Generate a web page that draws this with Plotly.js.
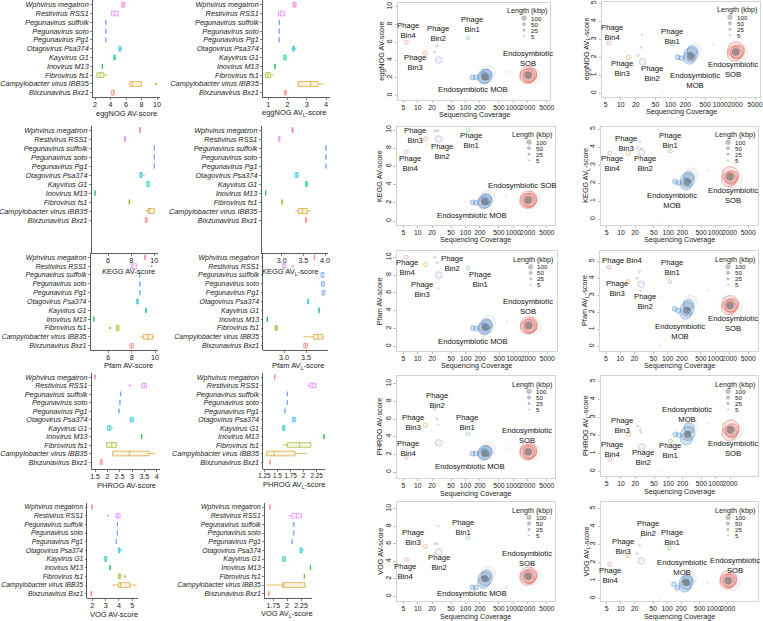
<!DOCTYPE html>
<html><head><meta charset="utf-8">
<script src="https://cdn.plot.ly/plotly-3.0.1.min.js"></script>
<style>html,body{margin:0;padding:0;background:#fff}#chart{width:763px;height:621px}</style>
</head><body><div id="chart"></div>
<script>
// ================= DATA =================
const categories = ['Wphvirus megatron','Restivirus RSS1','Pegunavirus suffolk','Pegunavirus soto','Pegunavirus Pg1','Otagovirus Psa374','Kayvirus G1','Inovirus M13','Fibrovirus fs1','Campylobacter virus IBB35','Bixzunavirus Bxz1'];
const categoryGenus = ['Wphvirus','Restivirus','Pegunavirus','Pegunavirus','Pegunavirus','Otagovirus','Kayvirus','Inovirus','Fibrovirus','Campylobacter virus','Bixzunavirus'];

// box statistics (order = categories)
const eggnogAV_lo  = [5.40,4.05,3.40,3.40,3.40,5.00,4.35,2.95,2.20,6.30,4.05];
const eggnogAV_q1  = [5.45,4.10,3.40,3.40,3.40,5.10,4.40,2.95,2.25,6.50,4.10];
const eggnogAV_med = [5.65,4.50,3.40,3.40,3.40,5.25,4.55,2.95,2.65,6.80,4.35];
const eggnogAV_q3  = [5.85,5.00,3.40,3.40,3.40,5.35,4.65,2.95,3.15,8.00,4.50];
const eggnogAV_hi  = [5.90,5.05,3.40,3.40,3.40,5.50,4.70,2.95,3.60,8.00,4.55];
const eggnogAV_outCat = ['Campylobacter virus IBB35'];
const eggnogAV_outVal = [9.9];

const eggnogAVL_lo  = [2.26,1.50,1.57,1.57,1.57,2.20,1.78,1.35,0.83,2.50,1.83];
const eggnogAVL_q1  = [2.28,1.53,1.57,1.57,1.57,2.26,1.80,1.35,0.85,2.55,1.84];
const eggnogAVL_med = [2.36,1.65,1.57,1.57,1.57,2.30,1.87,1.35,0.97,3.20,1.88];
const eggnogAVL_q3  = [2.44,1.85,1.57,1.57,1.57,2.37,1.93,1.35,1.12,3.59,1.94];
const eggnogAVL_hi  = [2.47,1.87,1.57,1.57,1.57,2.44,1.95,1.35,1.30,3.89,1.95];
const eggnogAVL_outCat = [];
const eggnogAVL_outVal = [];

const keggAV_lo  = [8.72,7.40,10.0,10.0,10.0,8.75,9.33,4.88,7.84,9.20,9.20];
const keggAV_q1  = [8.72,7.42,10.0,10.0,10.0,8.75,9.35,4.88,7.84,9.45,9.22];
const keggAV_med = [8.76,7.47,10.0,10.0,10.0,8.85,9.45,4.88,7.84,9.60,9.30];
const keggAV_q3  = [8.80,7.52,10.0,10.0,10.0,8.95,9.60,4.88,7.84,10.0,9.38];
const keggAV_hi  = [8.80,7.52,10.0,10.0,10.0,9.20,9.62,4.88,7.84,10.05,9.40];
const keggAV_outCat = [];
const keggAV_outVal = [];

const keggAVL_lo  = [3.23,2.92,4.02,4.02,4.02,3.31,3.54,2.63,3.01,3.31,3.55];
const keggAVL_q1  = [3.24,2.93,4.02,4.02,4.02,3.31,3.55,2.63,3.01,3.38,3.55];
const keggAVL_med = [3.25,2.94,4.02,4.02,4.02,3.34,3.57,2.63,3.01,3.48,3.56];
const keggAVL_q3  = [3.26,2.96,4.02,4.02,4.02,3.38,3.60,2.63,3.01,3.59,3.58];
const keggAVL_hi  = [3.27,2.96,4.02,4.02,4.02,3.40,3.60,2.63,3.01,3.67,3.58];
const keggAVL_outCat = [];
const keggAVL_outVal = [];

const pfamAV_lo  = [9.12,7.95,8.70,8.70,8.70,8.40,9.20,4.77,6.66,8.70,7.80];
const pfamAV_q1  = [9.13,7.95,8.70,8.70,8.70,8.43,9.21,4.77,6.66,9.00,7.86];
const pfamAV_med = [9.15,8.10,8.70,8.70,8.70,8.50,9.23,4.77,6.80,9.40,8.00];
const pfamAV_q3  = [9.17,8.43,8.70,8.70,8.70,8.57,9.25,4.77,6.92,9.80,8.14];
const pfamAV_hi  = [9.18,8.43,8.70,8.70,8.70,8.60,9.26,4.77,6.92,10.0,8.20];
const pfamAV_outCat = ['Restivirus RSS1','Fibrovirus fs1'];
const pfamAV_outVal = [9.7,6.15];

const pfamAVL_lo  = [3.69,2.97,3.84,3.85,3.86,3.54,3.79,2.62,2.75,3.44,3.44];
const pfamAVL_q1  = [3.69,2.97,3.84,3.85,3.86,3.54,3.79,2.62,2.80,3.67,3.45];
const pfamAVL_med = [3.69,3.00,3.87,3.88,3.90,3.55,3.80,2.62,2.82,3.77,3.49];
const pfamAVL_q3  = [3.70,3.04,3.91,3.92,3.93,3.56,3.81,2.62,2.85,3.88,3.53];
const pfamAVL_hi  = [3.70,3.04,3.91,3.92,3.93,3.57,3.81,2.62,2.85,3.90,3.54];
const pfamAVL_outCat = ['Restivirus RSS1'];
const pfamAVL_outVal = [3.2];

const phrogAV_lo  = [1.50,3.39,2.54,2.51,2.47,2.92,2.01,3.39,1.97,2.20,1.70];
const phrogAV_q1  = [1.50,3.39,2.54,2.51,2.47,2.93,2.01,3.39,1.97,2.22,1.71];
const phrogAV_med = [1.50,3.50,2.54,2.51,2.47,2.97,2.08,3.39,2.18,2.89,1.75];
const phrogAV_q3  = [1.50,3.59,2.54,2.51,2.47,3.05,2.15,3.39,2.38,3.69,1.80];
const phrogAV_hi  = [1.50,3.59,2.54,2.51,2.47,3.10,2.24,3.39,2.38,3.93,1.81];
const phrogAV_outCat = ['Restivirus RSS1'];
const phrogAV_outVal = [2.92];

const phrogAVL_lo  = [1.45,2.06,1.69,1.69,1.645,1.79,1.60,2.39,1.61,1.28,1.36];
const phrogAVL_q1  = [1.45,2.12,1.69,1.69,1.645,1.79,1.60,2.39,1.69,1.295,1.36];
const phrogAVL_med = [1.45,2.18,1.69,1.69,1.645,1.815,1.62,2.39,1.92,1.435,1.36];
const phrogAVL_q3  = [1.45,2.24,1.69,1.69,1.645,1.84,1.645,2.39,2.14,1.836,1.36];
const phrogAVL_hi  = [1.45,2.24,1.69,1.69,1.645,1.84,1.645,2.39,2.14,2.07,1.36];
const phrogAVL_outCat = [];
const phrogAVL_outVal = [];

const vogAV_lo  = [1.98,3.78,3.88,3.88,3.80,3.95,2.90,3.33,3.95,3.45,1.90];
const vogAV_q1  = [1.98,3.78,3.88,3.88,3.80,3.95,2.90,3.33,3.95,3.95,1.90];
const vogAV_med = [1.98,3.90,3.88,3.88,3.80,4.02,3.00,3.33,4.02,4.13,1.93];
const vogAV_q3  = [1.98,4.08,3.88,3.88,3.80,4.08,3.08,3.33,4.13,4.83,1.95];
const vogAV_hi  = [1.98,4.08,3.88,3.88,3.80,4.25,3.08,3.33,4.13,5.33,1.95];
const vogAV_outCat = ['Restivirus RSS1','Fibrovirus fs1'];
const vogAV_outVal = [3.2,4.45];

const vogAVL_lo  = [1.69,2.02,2.12,2.12,2.09,2.23,1.92,2.42,2.31,1.63,1.67];
const vogAVL_q1  = [1.69,2.08,2.12,2.12,2.09,2.23,1.92,2.42,2.31,1.92,1.67];
const vogAVL_med = [1.69,2.17,2.12,2.12,2.09,2.25,1.94,2.42,2.31,1.93,1.67];
const vogAVL_q3  = [1.69,2.26,2.12,2.12,2.09,2.27,1.97,2.42,2.31,2.32,1.67];
const vogAVL_hi  = [1.69,2.26,2.12,2.12,2.09,2.30,1.97,2.42,2.31,2.32,1.67];
const vogAVL_outCat = [];
const vogAVL_outVal = [];

// scatter: contigs / bins
const pointGroup = ['Bin4','Bin3','Bin2','Bin2','Bin2','Bin2','Bin1','MOB','MOB','MOB','MOB','MOB','none','center','SOB','SOB','SOB','none','center','none','none','none'];
const coverage   = [5.8,14.5,22.5,25.5,27.5,27,112,140,165,240,258,275,300,255,1950,2080,2200,2450,2050,720,1500,70];
const lengthKbp  = [70,90,20,15,200,8,70,110,110,650,900,500,900,200,1000,1250,850,1300,220,15,25,5];

const eggnogAV_y  = [6.0,4.8,4.9,5.6,4.0,8.0,6.5,2.05,2.05,2.0,2.2,2.4,2.6,2.1,2.2,2.4,2.3,2.3,2.3,2.7,2.6,0.1];
const eggnogAVL_y = [2.8,2.0,2.1,2.55,1.76,3.25,2.74,2.0,1.95,1.95,2.15,2.35,2.4,2.05,2.2,2.4,2.3,2.2,2.3,2.7,2.65,0.05];
const keggAV_y    = [7.6,9.0,9.9,9.9,9.0,9.95,10.0,2.05,2.0,2.0,2.2,2.4,2.6,2.1,2.2,2.4,2.3,2.3,2.3,2.7,2.6,0.1];
const keggAVL_y   = [3.65,3.65,3.96,4.3,3.7,3.9,3.78,2.07,2.0,1.95,2.15,2.35,2.45,2.05,2.2,2.45,2.3,2.2,2.35,2.7,2.7,0.05];
const pfamAV_y    = [10.0,9.2,10.0,9.4,8.0,6.5,8.8,2.06,2.0,1.95,2.2,2.5,2.7,2.1,2.2,2.4,2.3,2.3,2.35,2.8,2.7,0.1];
const pfamAVL_y   = [4.65,3.8,4.0,4.4,3.65,3.25,3.8,2.2,2.1,1.95,2.2,2.45,2.6,2.1,2.3,2.5,2.4,2.3,2.4,3.3,2.85,0.05];
const phrogAV_y   = [1.7,5.28,7.1,6.0,3.3,5.36,4.34,2.08,2.08,2.0,2.2,2.4,2.6,2.1,2.2,2.4,2.3,2.3,2.3,2.7,2.6,0.1];
const phrogAVL_y  = [0.67,2.04,2.5,2.28,1.35,2.15,1.67,2.05,2.0,1.8,2.1,2.4,2.5,2.05,2.1,2.4,2.25,2.2,2.3,2.65,2.6,0.0];
const vogAV_y     = [4.18,5.7,6.0,6.0,5.06,8.0,6.7,1.0,1.0,1.6,2.0,2.4,2.6,2.0,2.1,2.4,2.3,2.3,2.3,1.0,2.5,0.1];
const vogAVL_y    = [1.9,2.4,2.5,2.96,2.1,3.43,2.83,0.8,0.6,0.7,0.9,1.05,1.15,0.9,0.95,1.1,1.0,0.95,1.0,0.87,1.05,0.0];

const sizeLegendVals = [100,50,25,5];
const covTicks = [5,10,20,50,100,200,500,1000,2000,5000];

// ================= STYLE / LAYOUT =================
const W = 763, H = 621;
const FONT = 'Liberation Sans, Arial, sans-serif';
const genusColor = {'Bixzunavirus':'#F8766D','Campylobacter virus':'#D39200','Fibrovirus':'#93AA00','Inovirus':'#00BA38','Kayvirus':'#00C19F','Otagovirus':'#00B9E3','Pegunavirus':'#619CFF','Restivirus':'#DB72FB','Wphvirus':'#FF61C3'};
const groupStyle = {
  Bin4:{c:'#E6788F',f:0.15,l:0.9}, Bin3:{c:'#EE9A3A',f:0.2,l:0.9}, Bin2:{c:'#9C8FC4',f:0.15,l:0.85},
  Bin1:{c:'#6FBF6F',f:0.15,l:0.9}, MOB:{c:'#3A78BE',f:0.30,l:0.8}, SOB:{c:'#E0403A',f:0.18,l:0.8},
  none:{c:'#B8B8B8',f:0.18,l:0.45}, center:{c:'#6E6E6E',f:0.85,l:0.9}
};
const SIZE_K = 0.47; // px diameter per sqrt(kbp)
function rgba(hex,a){const n=parseInt(hex.slice(1),16);return `rgba(${n>>16&255},${n>>8&255},${n&255},${a})`;}
const px2x = p => p / W, px2y = p => 1 - p / H;

const boxPanels = [
 {s:'eggnogAV', title:'eggNOG AV-score', xcal:[2,95,10,157], dom:[93,160,0,97], cat:[4.7,92.7], cf:7.3, xf:7.2, tv:[2,4,6,8,10], tf:'', tpos:[126,113]},
 {s:'eggnogAVL', title:'eggNOG AV<sub>L</sub>-score', xcal:[1,268.3,4,326], dom:[263,330,0,97], cat:[4.7,92.7], cf:7.3, xf:7.2, tv:[1,2,3,4], tf:'', tpos:[294,112.5]},
 {s:'keggAV', title:'KEGG AV-score', xcal:[6,108,10,154.3], dom:[91.7,158,125.5,253], cat:[130,220], cf:7.3, xf:7.2, tv:[6,8,10], tf:'', tpos:[128,271.7]},
 {s:'keggAVL', title:'KEGG AV<sub>L</sub>-score', xcal:[3,281.7,4,325], dom:[261.7,328,125.5,253], cat:[130,220], cf:7.3, xf:7.2, tv:[3,3.5,4], tf:'.1f', tpos:[290,271.7]},
 {s:'pfamAV', title:'Pfam AV-score', xcal:[6,108.3,10,155], dom:[90.7,158,253,350], cat:[257.3,345.7], cf:7.0, xf:7.2, tv:[6,8,10], tf:'', tpos:[128,365.8]},
 {s:'pfamAVL', title:'Pfam AV<sub>L</sub>-score', xcal:[3,284,3.5,306], dom:[263.3,328,253,350], cat:[257.3,345.7], cf:7.0, xf:7.2, tv:[3,3.5], tf:'.1f', tpos:[298,365.8]},
 {s:'phrogAV', title:'PHROG AV-score', xcal:[1.5,95,4,156.7], dom:[91.7,160,372.7,469], cat:[377,462], cf:7.2, xf:7.0, tv:[1.5,2,2.5,3,3.5,4], tf:'', tpos:[126,485.3]},
 {s:'phrogAVL', title:'PHROG AV<sub>L</sub>-score', xcal:[1.25,264.3,2.25,316.7], dom:[263.3,325,372.7,469], cat:[377,462], cf:7.2, xf:6.3, tv:[1.25,1.5,1.75,2,2.25], tf:'', tpos:[294,485.3]},
 {s:'vogAV', title:'VOG AV-score', xcal:[2,92.3,5,132.3], dom:[87.3,138.3,502.7,598], cat:[507,593.7], cf:6.75, xf:7.2, tv:[2,3,4,5], tf:'', tpos:[114,614.3]},
 {s:'vogAVL', title:'VOG AV<sub>L</sub>-score', xcal:[1.75,273.3,2.25,301], dom:[265,312,502.7,598], cat:[507,593.7], cf:6.9, xf:7.0, tv:[1.75,2,2.25], tf:'', tpos:[287,614.3]}
];
const boxData = {
 eggnogAV:[eggnogAV_lo,eggnogAV_q1,eggnogAV_med,eggnogAV_q3,eggnogAV_hi,eggnogAV_outCat,eggnogAV_outVal],
 eggnogAVL:[eggnogAVL_lo,eggnogAVL_q1,eggnogAVL_med,eggnogAVL_q3,eggnogAVL_hi,eggnogAVL_outCat,eggnogAVL_outVal],
 keggAV:[keggAV_lo,keggAV_q1,keggAV_med,keggAV_q3,keggAV_hi,keggAV_outCat,keggAV_outVal],
 keggAVL:[keggAVL_lo,keggAVL_q1,keggAVL_med,keggAVL_q3,keggAVL_hi,keggAVL_outCat,keggAVL_outVal],
 pfamAV:[pfamAV_lo,pfamAV_q1,pfamAV_med,pfamAV_q3,pfamAV_hi,pfamAV_outCat,pfamAV_outVal],
 pfamAVL:[pfamAVL_lo,pfamAVL_q1,pfamAVL_med,pfamAVL_q3,pfamAVL_hi,pfamAVL_outCat,pfamAVL_outVal],
 phrogAV:[phrogAV_lo,phrogAV_q1,phrogAV_med,phrogAV_q3,phrogAV_hi,phrogAV_outCat,phrogAV_outVal],
 phrogAVL:[phrogAVL_lo,phrogAVL_q1,phrogAVL_med,phrogAVL_q3,phrogAVL_hi,phrogAVL_outCat,phrogAVL_outVal],
 vogAV:[vogAV_lo,vogAV_q1,vogAV_med,vogAV_q3,vogAV_hi,vogAV_outCat,vogAV_outVal],
 vogAVL:[vogAVL_lo,vogAVL_q1,vogAVL_med,vogAVL_q3,vogAVL_hi,vogAVL_outCat,vogAVL_outVal]
};

const scatterPanels = [
 {y:eggnogAV_y, title:'eggNOG AV-score', dom:[398,550,2.7,100], xcal:[5,403.3,5000,546.7], ycal:[0,95.7,10,6.7], yt:[0,2,4,6,8,10], noMax:false, col:3,
  labels:[['Phage<br>Bin4',408.3,30.7],['Phage<br>Bin2',438.3,33.3],['Phage<br>Bin1',471.7,25],['Phage<br>Bin3',415,62.3],['Endosymbiotic<br>SOB',528.3,58.3],['Endosymbiotic MOB',473.3,89.3]]},
 {y:eggnogAVL_y, title:'eggNOG AV<sub>L</sub>-score', dom:[602,760,1.7,96.7], xcal:[5,605.7,5000,755], ycal:[0,93.3,5,3.3], yt:[0,1,2,3,4,5], noMax:false, col:4,
  labels:[['Phage<br>Bin4',611.7,32.7],['Phage<br>Bin3',621.7,68.3],['Phage<br>Bin2',651.7,73.3],['Phage<br>Bin1',671.7,36],['Endosymbiotic<br>MOB',695,80.7],['Endosymbiotic<br>SOB',733.3,69]]},
 {y:keggAV_y, title:'KEGG AV-score', dom:[396.7,555,126.7,225], xcal:[5,403.3,5000,546.7], ycal:[0,221,10,130], yt:[0,2,4,6,8,10], noMax:false, col:3,
  labels:[['Phage<br>Bin3',415,135.3],['Phage<br>Bin2',442.3,151.7],['Phage<br>Bin4',410,163.3],['Phage<br>Bin1',470.7,140],['Endosymbiotic SOB',521.7,185],['Endosymbiotic MOB',471.7,215]]},
 {y:keggAVL_y, title:'KEGG AV<sub>L</sub>-score', dom:[601,758,126.7,225], xcal:[5,606.7,5000,748.3], ycal:[0,219,5,129], yt:[0,1,2,3,4,5], noMax:false, col:4,
  labels:[['Phage<br>Bin3',626,143.3],['Phage<br>Bin4',611.7,163.3],['Phage<br>Bin2',645,163.3],['Phage<br>Bin1',670,140],['Endosymbiotic<br>MOB',671.7,200],['Endosymbiotic<br>SOB',732.7,195]]},
 {y:pfamAV_y, title:'Pfam AV-score', dom:[396.7,556.7,251.3,350.7], xcal:[5,403.3,5000,547.3], ycal:[0,346.3,10,257.3], yt:[0,2,4,6,8,10], noMax:false, col:3,
  labels:[['Phage<br>Bin4',406.7,267.3],['Phage<br>Bin2',451.7,263.7],['Phage<br>Bin3',421.7,289.7],['Phage<br>Bin1',480,279.7],['Endosymbiotic<br>SOB',528.3,306.3],['Endosymbiotic MOB',473.3,341.3]]},
 {y:pfamAVL_y, title:'Pfam AV<sub>L</sub>-score', dom:[600,758,251.3,350.7], xcal:[5,606,5000,748.3], ycal:[0,346.3,5,261.3], yt:[0,1,2,3,4,5], noMax:false, col:4,
  labels:[['Phage Bin4',621.7,260.7],['Phage<br>Bin3',616.7,288.7],['Phage<br>Bin2',645,301.3],['Phage<br>Bin1',671.7,268],['Endosymbiotic<br>MOB',680,331.3],['Endosymbiotic<br>SOB',732.7,323]]},
 {y:phrogAV_y, title:'PHROG AV-score', dom:[396.7,555,376,478], xcal:[5,403.3,5000,546.7], ycal:[0,472,10,383.7], yt:[0,2,4,6,8,10], noMax:false, col:3,
  labels:[['Phage<br>Bin2',437.3,400.3],['Phage<br>Bin3',413.3,422.7],['Phage<br>Bin1',466.7,422],['Phage<br>Bin4',408.3,448],['Endosymbiotic<br>SOB',526.7,435.3],['Endosymbiotic MOB',470,466.3]]},
 {y:phrogAVL_y, title:'PHROG AV<sub>L</sub>-score', dom:[601,758,376,476], xcal:[5,606.7,2000,730], ycal:[0,471.3,5,381.3], yt:[0,1,2,3,4,5], noMax:true, col:4,
  labels:[['Phage<br>Bin3',621.7,425.3],['Phage<br>Bin4',611.7,449.3],['Phage<br>Bin2',643.3,458],['Phage<br>Bin1',670,450.3],['Endosymbiotic<br>MOB',686.7,414.7],['Endosymbiotic<br>SOB',733.3,448.7]]},
 {y:vogAV_y, title:'VOG AV-score', dom:[396.7,555,502,601], xcal:[5,403.3,5000,546.7], ycal:[0,596.3,10,508.7], yt:[0,2,4,6,8,10], noMax:false, col:3,
  labels:[['Phage<br>Bin1',463.3,527],['Phage<br>Bin3',413.3,537.7],['Phage<br>Bin2',439.3,562],['Phage<br>Bin4',405,571],['Endosymbiotic<br>SOB',526.7,558.7],['Endosymbiotic MOB',471.7,593.7]]},
 {y:vogAVL_y, title:'VOG AV<sub>L</sub>-score', dom:[601,758,502,601], xcal:[5,606.7,2000,727.7], ycal:[0,598.7,5,508.7], yt:[0,1,2,3,4,5], noMax:true, col:4,
  labels:[['Phage<br>Bin2',648.3,528.7],['Phage<br>Bin1',671.7,537],['Phage<br>Bin3',623.3,546.3],['Phage<br>Bin4',610,575.3],['Endosymbiotic<br>MOB',681.7,567],['Endosymbiotic<br>SOB',735,565.3]]}
];

const traces = [];
const layout = {width:W, height:H, margin:{l:0,r:0,t:0,b:0}, paper_bgcolor:'#ffffff', plot_bgcolor:'rgba(0,0,0,0)',
  showlegend:false, font:{family:FONT, size:7.5, color:'#222'}, annotations:[], shapes:[], hovermode:false};

function axId(p){return p===0?'':String(p+1);}
function ann(text,x,y,opt){layout.annotations.push(Object.assign({text:text, x:px2x(x), y:px2y(y), xref:'paper', yref:'paper', showarrow:false, xanchor:'center', yanchor:'middle', font:{family:FONT,size:7.6,color:'#111'}}, opt||{}));}

// ---- box panels ----
boxPanels.forEach((bp,k)=>{
  const row = Math.floor(k/2), col = k%2;
  const p = row*4 + col, ax = axId(p);
  const [lo,q1,med,q3,hi,outCat,outVal] = boxData[bp.s];
  const [v1,p1,v2,p2] = bp.xcal, ppu = (p2-p1)/(v2-v1);
  const [l,r,t,b] = bp.dom;
  const xr = [v1-(p1-l)/ppu, v1+(r-p1)/ppu];
  const s = (bp.cat[1]-bp.cat[0])/10;
  const yr = [10+(b-bp.cat[1])/s, -(bp.cat[0]-t)/s];
  layout['xaxis'+ax] = {domain:[px2x(l),px2x(r)], range:xr, anchor:'y'+ax, tickmode:'array', tickvals:bp.tv, tickformat:bp.tf, showline:true, linecolor:'#333', linewidth:0.8,
    ticks:'outside', ticklen:2, tickwidth:0.6, tickcolor:'#333', tickfont:{size:bp.xf,color:'#222'}, ticklabelstandoff:-1,
    showgrid:false, zeroline:false, tickangle:0, fixedrange:true};
  layout['yaxis'+ax] = {domain:[px2y(b),px2y(t)], range:yr, anchor:'x'+ax, type:'category', categoryorder:'array', categoryarray:categories,
    tickmode:'array', tickvals:categories, ticktext:categories,
    showline:true, linecolor:'#333', linewidth:0.8, ticks:'outside', ticklen:2, tickwidth:0.6, tickcolor:'#333',
    tickfont:{size:bp.cf,color:'#222',style:'italic'}, showgrid:false, zeroline:false, fixedrange:true};
  categories.forEach((cat,i)=>{
    const c = genusColor[categoryGenus[i]];
    traces.push({type:'box', orientation:'h', xaxis:'x'+ax, yaxis:'y'+ax, y:[cat], q1:[q1[i]], median:[med[i]], q3:[q3[i]],
      lowerfence:[lo[i]], upperfence:[hi[i]], boxpoints:false, width:0.55, whiskerwidth:0,
      line:{color:rgba(c,0.85), width:0.7}, fillcolor:rgba(c,0.12), hoverinfo:'skip', showlegend:false});
  });
  if(outCat.length){
    traces.push({type:'scatter', mode:'markers', xaxis:'x'+ax, yaxis:'y'+ax, x:outVal, y:outCat,
      marker:{size:2.2, color:outCat.map(cn=>rgba(genusColor[categoryGenus[categories.indexOf(cn)]],0.8))}, hoverinfo:'skip'});
  }
  ann(bp.title, bp.tpos[0], bp.tpos[1], {font:{family:FONT,size:7.5,color:'#222'}});
});

// ---- scatter panels ----
const order = lengthKbp.map((_,i)=>i).sort((a,b)=>lengthKbp[b]-lengthKbp[a]);
scatterPanels.forEach((sp,k)=>{
  const row = Math.floor(k/2), col = 2 + k%2;
  const p = row*4 + col, ax = axId(p);
  const [l,r,t,b] = sp.dom;
  const [xv1,xp1,xv2,xp2] = sp.xcal, ppd = (xp2-xp1)/(Math.log10(xv2)-Math.log10(xv1));
  const xr = [Math.log10(xv1)-(xp1-l)/ppd, Math.log10(xv1)+(r-xp1)/ppd];
  const [yv1,yp1,yv2,yp2] = sp.ycal, ppu = (yp1-yp2)/(yv2-yv1);
  const yr = [yv1-(b-yp1)/ppu, yv1+(yp1-t)/ppu];
  const tv = sp.noMax ? covTicks.filter(v=>v<5000) : covTicks;
  layout['xaxis'+ax] = {domain:[px2x(l),px2x(r)], type:'log', range:xr, anchor:'y'+ax, tickmode:'array', tickvals:tv, ticktext:tv.map(String),
    showline:true, mirror:true, linecolor:'#C9C9C9', linewidth:0.8, ticks:'outside', ticklen:2.5, tickwidth:0.6, tickcolor:'#999',
    tickfont:{size:6.8,color:'#222'}, ticklabelstandoff:-1, tickangle:0, showgrid:false, zeroline:false, fixedrange:true};
  layout['yaxis'+ax] = {domain:[px2y(b),px2y(t)], range:yr, anchor:'x'+ax, tickmode:'array', tickvals:sp.yt, tickangle:-90,
    showline:true, mirror:true, linecolor:'#C9C9C9', linewidth:0.8, ticks:'outside', ticklen:2.5, tickwidth:0.6, tickcolor:'#999',
    tickfont:{size:7,color:'#222'}, showgrid:false, zeroline:false, fixedrange:true};
  traces.push({type:'scatter', mode:'markers', xaxis:'x'+ax, yaxis:'y'+ax,
    x:order.map(i=>coverage[i]), y:order.map(i=>sp.y[i]),
    marker:{size:order.map(i=>SIZE_K*Math.sqrt(lengthKbp[i])),
      color:order.map(i=>{const g=groupStyle[pointGroup[i]];return rgba(g.c,g.f);}),
      line:{width:0.7, color:order.map(i=>{const g=groupStyle[pointGroup[i]];return rgba(g.c,g.l);})}},
    hoverinfo:'skip'});
  sp.labels.forEach(L=>ann(L[0],L[1],L[2],{font:{family:FONT,size:7.7,color:'#111'}}));
  // axis titles
  ann('Sequencing Coverage',(l+r)/2,Math.min(b+15,616.3),{font:{family:FONT,size:7.2,color:'#222'}});
  ann(sp.title, l-(col===2?16.5:15),(t+b)/2,{textangle:-90,font:{family:FONT,size:7.3,color:'#222'}});
  // size legend
  const cx = r-(col===2?26:30), lx = r-(col===2?21.5:25.5);
  ann('Length (kbp)', r-1.5, t+8, {xanchor:'right', font:{family:FONT,size:7.2,color:'#222'}});
  sizeLegendVals.forEach((v,j)=>{
    const cy = t+15.5+j*6.0, d = SIZE_K*Math.sqrt(v);
    layout.shapes.push({type:'circle', xref:'paper', yref:'paper', xsizemode:'pixel', ysizemode:'pixel',
      xanchor:px2x(cx), yanchor:px2y(cy), x0:-d/2, x1:d/2, y0:-d/2, y1:d/2,
      fillcolor:'rgba(150,150,150,0.55)', line:{color:'rgba(140,140,140,0.7)',width:0.5}});
    ann(String(v), lx, cy, {xanchor:'left', font:{family:FONT,size:6.2,color:'#222'}});
  });
});

Plotly.newPlot('chart', traces, layout, {staticPlot:true, displayModeBar:false});
</script>
</body></html>
